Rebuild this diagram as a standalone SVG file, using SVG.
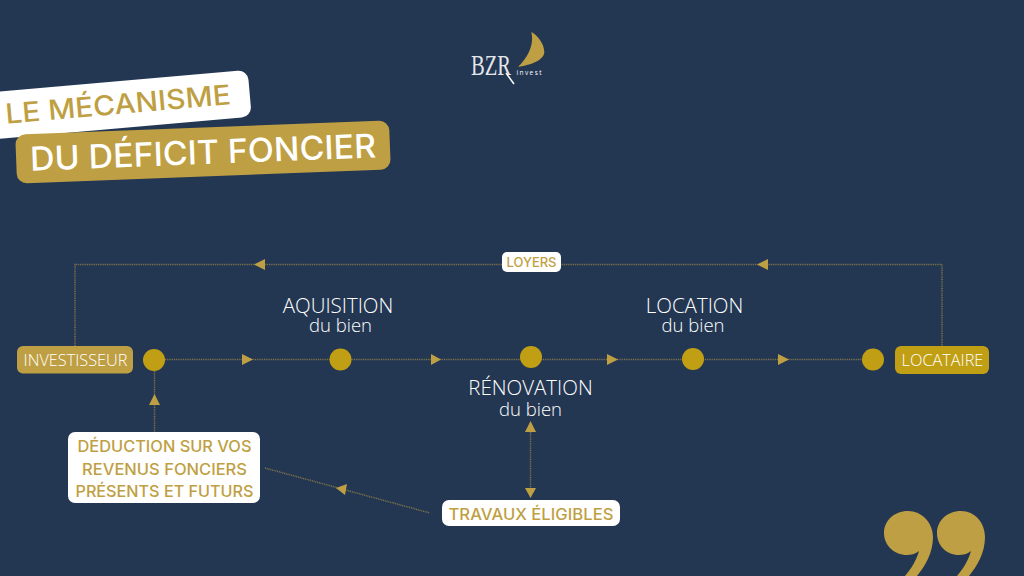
<svg xmlns="http://www.w3.org/2000/svg" width="1024" height="576" viewBox="0 0 1024 576">
<style>
.g{fill:#BF9F43}
.pill{fill:#fff}
.gp{fill:#BF9F43}
.dot{fill:#C19F14}
.c{fill:none;stroke:#BF9F43;stroke-width:1.5;stroke-dasharray:1 .8;opacity:.6}
.a{fill:#BF9F43}
.m{font-family:Inter,"Liberation Sans",sans-serif;font-weight:500;fill:#BF9F43;text-anchor:middle}
.o{font-family:"Open Sans","Liberation Sans",sans-serif;font-weight:300;fill:#fff;text-anchor:middle}
</style>
<rect width="1024" height="576" fill="#233753"/>
<g id="logo">
<path class="g" d="M531.300 32C537 35 544 43 544.300 51.700C544.500 60 531 65 518.300 66.700C525 60 535 47 531.300 32Z"/>
<text x="471" y="75" font-family="Liberation Serif,serif" font-size="29" fill="#fff" fill-opacity=".9" textLength="40" lengthAdjust="spacingAndGlyphs">BZR</text>
<path d="M506 73L514 84" stroke="#fff" stroke-width="1.500" fill="none"/>
<text x="516.500" y="75" font-family="Open Sans,sans-serif" font-size="6.500" fill="#fff" textLength="25">invest</text>
</g>
<g id="title-1">
<rect x="-20" y="81.500" width="270" height="47" rx="10" class="pill" transform="rotate(-5 115 103)"/>
<text class="m" x="118" y="114" font-size="27.500" transform="rotate(-5 118 105)" textLength="226" lengthAdjust="spacingAndGlyphs">LE MÉCANISME</text>
</g>
<g id="title-2">
<rect x="16" y="127.500" width="374" height="49" rx="10" class="gp" transform="rotate(-2.200 203 152)"/>
<text class="m" x="203" y="164" font-size="33" style="fill:#fff" transform="rotate(-2.200 203 152)" textLength="346" lengthAdjust="spacingAndGlyphs">DU DÉFICIT FONCIER</text>
</g>
<g id="connectors">
<path class="c" d="M75 346V264.500H942V346"/>
<path class="c" d="M165 359.500H863"/>
<path class="c" d="M154.500 371V432"/>
<path class="c" d="M530.500 432V490"/>
<path class="c" d="M265 468L430 513"/>
<path class="a" d="M254 264.500L265 259V270Z"/>
<path class="a" d="M757 264.500L768 259V270Z"/>
<path class="a" d="M253 359.500L242 354V365Z"/>
<path class="a" d="M441 359.500L431 354V365Z"/>
<path class="a" d="M618 359.500L607 354V365Z"/>
<path class="a" d="M789 359.500L778 354V365Z"/>
<path class="a" d="M154.500 394L149 405H160Z"/>
<path class="a" d="M530.500 421L525 432H536Z"/>
<path class="a" d="M530.500 498L525 488H536Z"/>
<path class="a" d="M336 488L347 484L345 495Z"/>
</g>
<g id="investisseur">
<rect x="17" y="346" width="116" height="27.500" rx="6" class="gp"/>
<text class="o" x="75.500" y="365.500" font-size="16.300">INVESTISSEUR</text>
</g>
<g id="locataire">
<rect x="895" y="346" width="94" height="28" rx="6" fill="#C19F14"/>
<text class="o" x="942.500" y="365.500" font-size="16.300">LOCATAIRE</text>
</g>
<g id="etape-1"><circle class="dot" cx="154" cy="360" r="11"/></g>
<g id="etape-2"><circle class="dot" cx="340.500" cy="359.500" r="11"/>
<text class="o" x="338" y="312.500" font-size="20.500">AQUISITION</text>
<text class="o" x="340.500" y="332" font-size="18.500">du bien</text></g>
<g id="etape-3"><circle class="dot" cx="531" cy="357" r="11"/>
<text class="o" x="530.500" y="394.500" font-size="20.500">RÉNOVATION</text>
<text class="o" x="530.500" y="416" font-size="18.500">du bien</text></g>
<g id="etape-4"><circle class="dot" cx="693" cy="359" r="11"/>
<text class="o" x="694.500" y="312.500" font-size="20.500">LOCATION</text>
<text class="o" x="693" y="332" font-size="18.500">du bien</text></g>
<g id="etape-5"><circle class="dot" cx="873" cy="359.500" r="11"/></g>
<g id="loyers">
<rect x="502" y="252" width="59" height="20" rx="5" class="pill"/>
<text class="m" x="531.500" y="267" font-size="12.500" textLength="50" lengthAdjust="spacingAndGlyphs">LOYERS</text>
</g>
<g id="deduction">
<rect x="68" y="432" width="192" height="71" rx="7" class="pill"/>
<text class="m" x="164.500" y="452" font-size="15.500" textLength="174" lengthAdjust="spacingAndGlyphs">DÉDUCTION SUR VOS</text>
<text class="m" x="164.500" y="475" font-size="15.500" textLength="165" lengthAdjust="spacingAndGlyphs">REVENUS FONCIERS</text>
<text class="m" x="164.500" y="497" font-size="15.500" textLength="178" lengthAdjust="spacingAndGlyphs">PRÉSENTS ET FUTURS</text>
</g>
<g id="travaux">
<rect x="442" y="500" width="178" height="26" rx="7" class="pill"/>
<text class="m" x="531" y="520" font-size="15.500" textLength="165" lengthAdjust="spacingAndGlyphs">TRAVAUX ÉLIGIBLES</text>
</g>
<g id="guillemets">
<path class="g" d="M908 511C922 511 933 523 933 537C933 553 925 566 917 576H905C911 569 916 561 919 551C915 554 911 555 907 555C894 555 884 545 884 533C884 521 894 511 908 511Z"/>
<path class="g" d="M961 511C975 511 985 523 985 537C985 553 977 566 969 576H957C963 569 968 561 971 551C967 554 963 555 959 555C946 555 937 545 937 533C937 521 947 511 961 511Z"/>
</g>
</svg>
